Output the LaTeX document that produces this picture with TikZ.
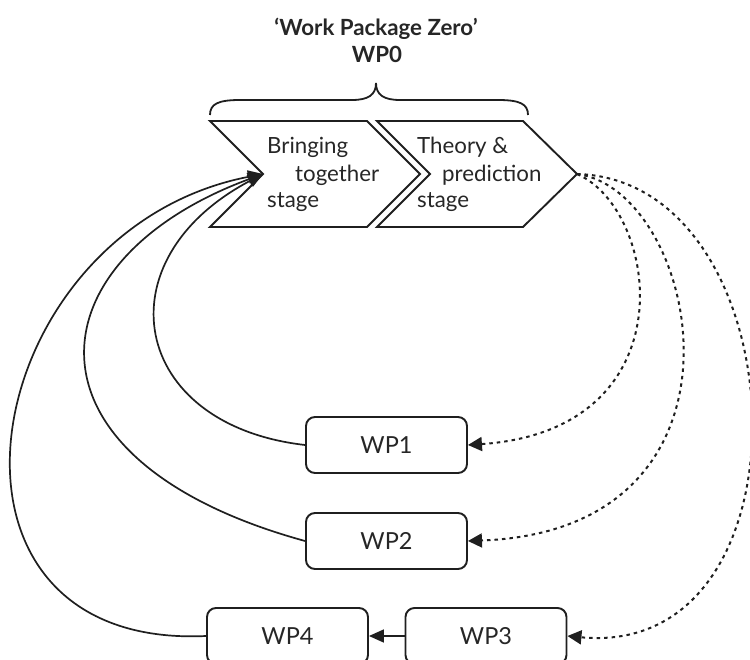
\documentclass[tikz,border=0pt]{standalone}
\usepackage{fontspec}
\setmainfont{Lato}
\usetikzlibrary{arrows.meta}
\begin{document}
\begin{tikzpicture}[x=1pt,y=-1pt,
  ink/.style={draw=black!88},
  stage/.style={ink, line width=1.9pt, line join=miter},
  stagetext/.style={anchor=base west, inner sep=0pt, text=black!85,
    font=\fontsize{22.3}{27}\selectfont},
  heading/.style={anchor=base, inner sep=0pt, text=black!85,
    font=\fontsize{22.3}{27}\selectfont\bfseries},
  wpbox/.style={ink, line width=1.9pt, rounded corners=9pt,
    minimum width=161pt, minimum height=56pt, inner sep=0pt,
    text=black!85, font=\fontsize{23.5}{28}\selectfont},
  feedback/.style={ink, line width=1.7pt,
    -{Triangle[length=15pt,width=13pt]}},
  plan/.style={ink, line width=2pt, dash pattern=on 3.5pt off 4pt,
    -{Triangle[length=14pt,width=14pt]}},
]
\useasboundingbox (0,0) rectangle (750,660);
\clip (0,0) rectangle (750,660);

% heading
\node[heading] (ttl) at (376,36) {‘Work Package Zero’};
\node[heading] (wpz) at (377,63) {WP0};

% brace over both stages
\draw[ink, line width=1.8pt]
  (210,115) .. controls (210,104) and (218,100) .. (240,100) -- (352,100)
  .. controls (368,100) and (376,95) .. (376,83)
  .. controls (376,95) and (384,100) .. (400,100) -- (498,100)
  .. controls (520,100) and (528,104) .. (528,115);

% the two stages
\draw[stage] (210,121) -- (367,121) -- (420,174) -- (367,227) -- (210,227) -- (263,174) -- cycle;
\draw[stage] (377,121) -- (523,121) -- (577,174) -- (523,227) -- (377,227) -- (430,174) -- cycle;
\coordinate (bt) at (263,174);
\coordinate (tp) at (577,174);

\node[stagetext] (b1) at (267,154) {Bringing};
\node[stagetext] (b2) at (295,182) {together};
\node[stagetext] (b3) at (267,208) {stage};
\node[stagetext] (t1) at (417,154) {Theory \&};
\node[stagetext] (t2) at (442,182) {prediction};
\node[stagetext] (t3) at (417,208) {stage};

% work packages
\node[wpbox] (wp1) at (386.5,445) {WP1};
\node[wpbox] (wp2) at (386.5,541) {WP2};
\node[wpbox] (wp3) at (486,636) {WP3};
\node[wpbox] (wp4) at (287.5,636) {WP4};

% feedback into the first stage
\draw[feedback] (wp1.west) .. controls (130,425) and (100,260) .. (bt);
\draw[feedback] (wp2.west) .. controls (10,460) and (30,260) .. (bt);
\draw[feedback] (wp4.west) .. controls (-95,650) and (-25,230) .. (bt);
\draw[feedback] (wp3.west) -- (wp4.east);

% predictions out to the work packages
\draw[plan] (tp) .. controls (660,210) and (690,430) .. (wp1.east);
\draw[plan] (tp) .. controls (700,190) and (770,530) .. (wp2.east);
\draw[plan] (tp) .. controls (800,180) and (820,660) .. (wp3.east);
\end{tikzpicture}
\end{document}
